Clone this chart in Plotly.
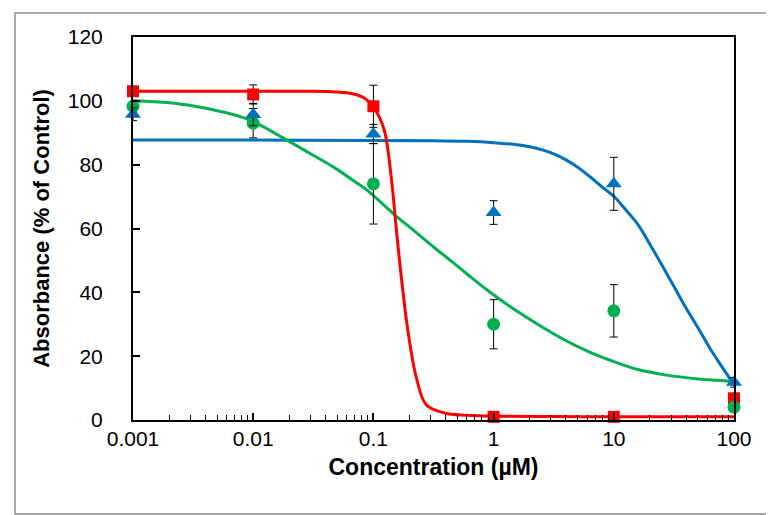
import plotly.graph_objects as go

# Measured points
conc = [0.001, 0.01, 0.1, 1, 10, 100]
red_vals = [103, 102, 98.3, 1, 1, 6.8]
red_err = [0.5, 3, 6.6, 0.3, 0.3, 0.5]
green_vals = [98.3, 93, 74, 30, 34.2, 4]
green_err = [1.7, 4.6, 12.6, 7.7, 8.2, 0.5]
blue_vals = [95.8, 95.7, 89.6, 65, 74, 11.8]
blue_err = [2, 3.5, 3, 3.7, 8.3, 1.5]

# Fitted curves
red_fit_x = [0.001, 0.003, 0.01, 0.03, 0.042, 0.06, 0.08, 0.09, 0.1, 0.11, 0.124, 0.141, 0.155,
             0.171, 0.194, 0.228, 0.275, 0.39, 0.6, 1, 3, 10, 30, 100]
red_fit_y = [103, 103, 103, 103, 102.9, 102.5, 101.3, 100, 98, 95.5, 90.4, 75.8, 60,
             44.5, 27.8, 13.2, 4.8, 2.2, 1.5, 1.2, 1.1, 1, 1, 1]
green_fit_x = [0.001, 0.002, 0.00326, 0.005, 0.0075, 0.01, 0.0177, 0.03, 0.0477, 0.07, 0.09,
               0.15, 0.22, 0.324, 0.45, 0.612, 0.9, 1.4, 2.34, 3.8, 6.1, 10, 15.9, 25, 41.4, 65, 100]
green_fit_y = [100, 99.4, 98.3, 96.9, 95.3, 93.5, 88.4, 83.4, 79, 74.7, 71.8,
               64.3, 59.2, 53.9, 49.6, 45.5, 40.5, 35.3, 29.9, 25.3, 21.5, 18.3, 15.8, 14.3, 13.2, 12.5, 12.1]
blue_fit_x = [0.001, 0.01, 0.1, 0.3, 0.6, 1, 1.5, 2, 2.5, 3.2, 4, 5, 6.3, 8, 10, 12.6, 15.9,
              20, 25, 32, 40, 50, 63, 80, 100]
blue_fit_y = [87.7, 87.7, 87.6, 87.5, 87.3, 86.9, 86.3, 85.6, 84.7, 83.3, 81.5, 79.2, 76.3, 73, 70.1,
              65.8, 61.2, 55, 48.7, 41.5, 35, 29, 22.5, 16.5, 11.1]

x_tickvals = [0.001, 0.01, 0.1, 1, 10, 100]
x_ticktext = ["0.001", "0.01", "0.1", "1", "10", "100"]
y_tickvals = [0, 20, 40, 60, 80, 100, 120]

RED = "#FF0000"
GREEN = "#00B050"
BLUE = "#0070C0"

fig = go.Figure()
for fx, fy, col in [(blue_fit_x, blue_fit_y, BLUE), (green_fit_x, green_fit_y, GREEN),
                    (red_fit_x, red_fit_y, RED)]:
    fig.add_trace(go.Scatter(x=fx, y=fy, mode="lines",
                             line=dict(color=col, width=3, shape="spline", smoothing=1.0),
                             showlegend=False, hoverinfo="skip", cliponaxis=True))

for vals, errs, col, sym, size in [(red_vals, red_err, RED, "square", 12),
                                   (green_vals, green_err, GREEN, "circle", 13),
                                   (blue_vals, blue_err, BLUE, "triangle-up", 14)]:
    fig.add_trace(go.Scatter(x=conc, y=vals, mode="markers",
                             marker=dict(color=col, symbol=sym, size=size, line=dict(width=0)),
                             error_y=dict(type="data", array=errs, visible=True, color="black",
                                          thickness=1, width=4),
                             showlegend=False, cliponaxis=False))

# outer frame
pw, ph = 601, 383
fig.add_shape(type="rect", xref="paper", yref="paper",
              x0=(7 - 125) / pw, x1=(766 - 125) / pw,
              y0=(412 - 506) / ph, y1=(412 - 5) / ph,
              line=dict(color="#8c8c8c", width=1.5), layer="below")

fig.update_layout(
    width=774, height=515,
    margin=dict(l=125, r=48, t=29, b=103),
    paper_bgcolor="white", plot_bgcolor="white",
    font=dict(family="Liberation Sans, Arial, sans-serif", color="black"),
    xaxis=dict(
        type="log", range=[-3, 2],
        tickvals=x_tickvals, ticktext=x_ticktext,
        ticks="inside", ticklen=7, tickwidth=1.5, tickcolor="black",
        minor=dict(ticks="inside", ticklen=5, tickwidth=1, tickcolor="black", dtick="D1", showgrid=False),
        showline=True, linecolor="black", linewidth=2, mirror=True,
        showgrid=False, zeroline=False,
        tickfont=dict(size=21, color="black"),
        ticklabelstandoff=-1,
        title=dict(text="<b>Concentration (µM)</b>", font=dict(size=23, color="black"), standoff=10),
    ),
    yaxis=dict(
        range=[0, 120], tickvals=y_tickvals,
        ticks="inside", ticklen=7, tickwidth=1.5, tickcolor="black",
        showline=True, linecolor="black", linewidth=2, mirror=True,
        showgrid=False, zeroline=False,
        tickfont=dict(size=21, color="black"),
        ticklabelstandoff=24,
        title=dict(text="<b>Absorbance (% of Control)</b>", font=dict(size=22, color="black"), standoff=12),
    ),
)

fig.write_html("out.html")
